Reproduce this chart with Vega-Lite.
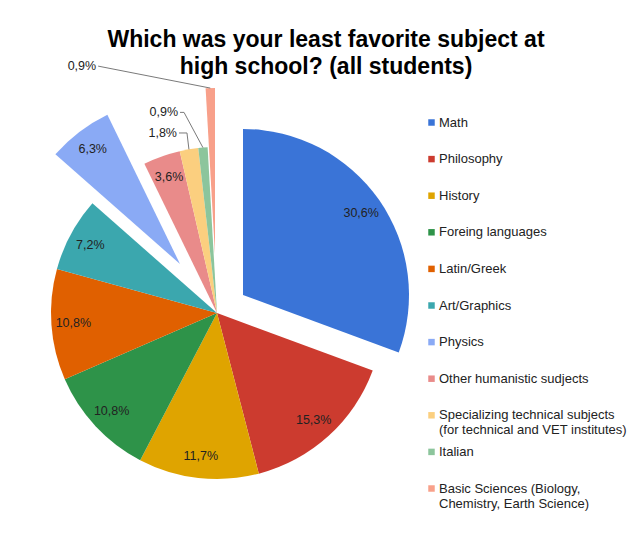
{
  "$schema": "https://vega.github.io/schema/vega-lite/v6.json",
  "width": 332,
  "height": 332,
  "autosize": "none",
  "padding": {"left": 51, "top": 147, "right": 255, "bottom": 58},
  "background": "#ffffff",
  "config": {"view": {"stroke": null}},
  "params": [{"name": "R", "value": 166}],
  "title": {
    "text": ["Which was your least favorite subject at", "high school? (all students)"],
    "anchor": "middle",
    "frame": "group",
    "dx": 109,
    "offset": 0,
    "dy": 19,
    "font": "Liberation Sans",
    "fontSize": 23,
    "fontWeight": "bold",
    "color": "#000000",
    "lineHeight": 27
  },
  "data": {
    "values": [
      {"subject": "Math", "pct": 30.6},
      {"subject": "Philosophy", "pct": 15.3},
      {"subject": "History", "pct": 11.7},
      {"subject": "Foreing languages", "pct": 10.8},
      {"subject": "Latin/Greek", "pct": 10.8},
      {"subject": "Art/Graphics", "pct": 7.2},
      {"subject": "Physics", "pct": 6.3},
      {"subject": "Other humanistic sudjects", "pct": 3.6},
      {"subject": "Specializing technical subjects (for technical and VET institutes)", "pct": 1.8},
      {"subject": "Italian", "pct": 0.9},
      {"subject": "Basic Sciences (Biology, Chemistry, Earth Science)", "pct": 0.9}
    ]
  },
  "transform": [
    {"joinaggregate": [{"op": "sum", "field": "pct", "as": "total"}]},
    {"window": [{"op": "sum", "field": "pct", "as": "cum"}], "frame": [null, 0]},
    {"calculate": "(datum.cum - datum.pct) / datum.total", "as": "f0"},
    {"calculate": "datum.cum / datum.total", "as": "f1"},
    {"calculate": "(datum.f0 + datum.f1) / 2", "as": "fm"},
    {"calculate": "replace(format(datum.pct, '.1f'), '.', ',') + '%'", "as": "label"}
  ],
  "layer": [
    {
      "transform": [{"filter": "datum.subject != 'Math' && datum.subject != 'Physics' && datum.subject != 'Basic Sciences (Biology, Chemistry, Earth Science)'"}],
      "mark": {"type": "arc", "outerRadius": {"expr": "R"}},
      "encoding": {
        "theta": {"field": "f0", "type": "quantitative", "scale": {"domain": [0, 1]}},
        "theta2": {"field": "f1"},
        "color": {
          "field": "subject",
          "type": "nominal",
          "scale": {
            "domain": ["Math", "Philosophy", "History", "Foreing languages", "Latin/Greek", "Art/Graphics", "Physics", "Other humanistic sudjects", "Specializing technical subjects (for technical and VET institutes)", "Italian", "Basic Sciences (Biology, Chemistry, Earth Science)"],
            "range": ["#3a74d7", "#cc3b2f", "#dfa400", "#2e9349", "#e06000", "#3ba7ae", "#8aaaf5", "#e98b8a", "#fbcf7f", "#8cc59c", "#f8a08a"]
          },
          "legend": {
            "orient": "none",
            "legendX": 374,
            "legendY": -31,
            "title": null,
            "symbolType": "square",
            "symbolSize": 42,
            "symbolStrokeWidth": 0,
            "labelFont": "Liberation Sans",
            "labelFontSize": 13,
            "labelColor": "#222222",
            "labelOffset": 1,
            "labelLimit": 300,
            "gridAlign": "all",
            "rowPadding": 7.6,
            "labelExpr": "datum.label == 'Specializing technical subjects (for technical and VET institutes)' ? ['Specializing technical subjects', '(for technical and VET institutes)'] : datum.label == 'Basic Sciences (Biology, Chemistry, Earth Science)' ? ['Basic Sciences (Biology,', 'Chemistry, Earth Science)'] : datum.label"
          }
        }
      }
    },
    {
      "transform": [{"filter": "datum.subject == 'Math'"}],
      "layer": [
        {
          "mark": {"type": "arc", "outerRadius": {"expr": "R"}, "xOffset": 26, "yOffset": -18},
          "encoding": {
            "theta": {"field": "f0", "type": "quantitative", "scale": {"domain": [0, 1]}},
            "theta2": {"field": "f1"},
            "color": {"field": "subject", "type": "nominal"}
          }
        },
        {
          "mark": {"type": "text", "radius": 144, "xOffset": 26, "yOffset": -18, "font": "Liberation Sans", "fontSize": 12.5, "color": "#222222"},
          "encoding": {
            "theta": {"field": "fm", "type": "quantitative", "scale": {"domain": [0, 1]}},
            "text": {"field": "label"}
          }
        }
      ]
    },
    {
      "transform": [{"filter": "datum.subject == 'Physics'"}],
      "layer": [
        {
          "mark": {"type": "arc", "outerRadius": {"expr": "R"}, "xOffset": -37, "yOffset": -49},
          "encoding": {
            "theta": {"field": "f0", "type": "quantitative", "scale": {"domain": [0, 1]}},
            "theta2": {"field": "f1"},
            "color": {"field": "subject", "type": "nominal"}
          }
        },
        {
          "mark": {"type": "text", "radius": 144, "xOffset": -37, "yOffset": -49, "font": "Liberation Sans", "fontSize": 12.5, "color": "#222222"},
          "encoding": {
            "theta": {"field": "fm", "type": "quantitative", "scale": {"domain": [0, 1]}},
            "text": {"field": "label"}
          }
        }
      ]
    },
    {
      "transform": [{"filter": "datum.subject == 'Basic Sciences (Biology, Chemistry, Earth Science)'"}],
      "mark": {"type": "arc", "outerRadius": {"expr": "R"}, "xOffset": -2, "yOffset": -59},
      "encoding": {
        "theta": {"field": "f0", "type": "quantitative", "scale": {"domain": [0, 1]}},
        "theta2": {"field": "f1"},
        "color": {"field": "subject", "type": "nominal"}
      }
    },
    {
      "transform": [{"filter": "datum.pct >= 3 && datum.subject != 'Math' && datum.subject != 'Physics'"}],
      "mark": {"type": "text", "radius": 144, "font": "Liberation Sans", "fontSize": 12.5, "color": "#222222"},
      "encoding": {
        "theta": {"field": "fm", "type": "quantitative", "scale": {"domain": [0, 1]}},
        "text": {"field": "label"}
      }
    },
    {
      "transform": [
        {"filter": "datum.pct < 3"},
        {"calculate": "datum.subject == 'Italian' ? -0.0155 : datum.subject == 'Basic Sciences (Biology, Chemistry, Earth Science)' ? -0.0669 : -0.0061", "as": "shift"},
        {"calculate": "datum.subject == 'Italian' ? 204 : datum.subject == 'Basic Sciences (Biology, Chemistry, Earth Science)' ? 274 : 184", "as": "rl"},
        {"calculate": "datum.subject == 'Italian' ? 4 : datum.subject == 'Basic Sciences (Biology, Chemistry, Earth Science)' ? 0 : 8", "as": "stub"},
        {"calculate": "datum.subject == 'Basic Sciences (Biology, Chemistry, Earth Science)' ? -2 : 0", "as": "ox"},
        {"calculate": "datum.subject == 'Basic Sciences (Biology, Chemistry, Earth Science)' ? -59 : 0", "as": "oy"},
        {"calculate": "width / 2 + datum.rl * sin(2 * PI * (datum.fm + datum.shift))", "as": "lx"},
        {"calculate": "height / 2 - datum.rl * cos(2 * PI * (datum.fm + datum.shift))", "as": "ly"},
        {"calculate": "datum.lx + datum.stub", "as": "kx"},
        {"calculate": "width / 2 + datum.ox + R * sin(2 * PI * datum.fm)", "as": "ex"},
        {"calculate": "height / 2 + datum.oy - R * cos(2 * PI * datum.fm)", "as": "ey"}
      ],
      "layer": [
        {
          "mark": {"type": "rule", "color": "#7a7a7a", "strokeWidth": 1},
          "encoding": {
            "x": {"field": "lx", "type": "quantitative", "scale": null},
            "y": {"field": "ly", "type": "quantitative", "scale": null},
            "x2": {"field": "kx"},
            "y2": {"field": "ly"}
          }
        },
        {
          "mark": {"type": "rule", "color": "#7a7a7a", "strokeWidth": 1},
          "encoding": {
            "x": {"field": "kx", "type": "quantitative", "scale": null},
            "y": {"field": "ly", "type": "quantitative", "scale": null},
            "x2": {"field": "ex"},
            "y2": {"field": "ey"}
          }
        },
        {
          "mark": {"type": "text", "align": "right", "baseline": "middle", "dx": -2, "font": "Liberation Sans", "fontSize": 12.5, "color": "#222222"},
          "encoding": {
            "x": {"field": "lx", "type": "quantitative", "scale": null},
            "y": {"field": "ly", "type": "quantitative", "scale": null},
            "text": {"field": "label"}
          }
        }
      ]
    }
  ]
}
